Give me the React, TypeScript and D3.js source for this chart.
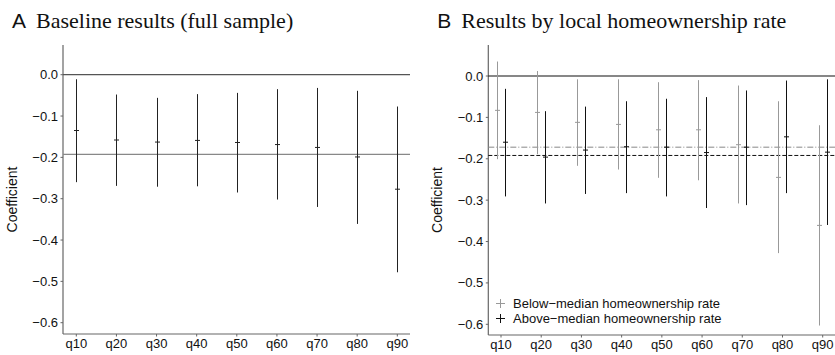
import * as d3 from 'd3';

const quantiles = ['q10', 'q20', 'q30', 'q40', 'q50', 'q60', 'q70', 'q80', 'q90'];
const yTicks = [0, -0.1, -0.2, -0.3, -0.4, -0.5, -0.6];

// Panel A: full sample
const fullCoef = [-0.135, -0.158, -0.163, -0.159, -0.164, -0.169, -0.176, -0.199, -0.277];
const fullLow = [-0.26, -0.269, -0.271, -0.27, -0.285, -0.302, -0.32, -0.361, -0.478];
const fullHigh = [-0.011, -0.048, -0.056, -0.047, -0.044, -0.035, -0.032, -0.039, -0.077];
const fullMean = -0.193;

// Panel B: by local homeownership rate
const belowCoef = [-0.083, -0.088, -0.112, -0.117, -0.13, -0.13, -0.166, -0.245, -0.361];
const belowLow = [-0.201, -0.189, -0.217, -0.226, -0.246, -0.252, -0.308, -0.428, -0.603];
const belowHigh = [0.035, 0.012, -0.008, -0.008, -0.015, -0.01, -0.023, -0.061, -0.119];
const aboveCoef = [-0.16, -0.196, -0.179, -0.171, -0.172, -0.185, -0.172, -0.147, -0.184];
const aboveLow = [-0.291, -0.308, -0.285, -0.283, -0.291, -0.319, -0.312, -0.283, -0.36];
const aboveHigh = [-0.031, -0.085, -0.074, -0.061, -0.055, -0.051, -0.035, -0.011, -0.008];
const belowMean = -0.172;
const aboveMean = -0.192;

const legendLabels = ['Below\u2212median homeownership rate', 'Above\u2212median homeownership rate'];

const sans = '"Liberation Sans", Arial, sans-serif';
const serif = '"Liberation Serif", "Times New Roman", serif';
const axisColor = '#666';
const belowColor = '#999';
const aboveColor = '#111';

interface PanelProps {
  letter: string;
  title: string;
  left: number;   // x of y axis
  right: number;  // right end of plot
  firstX: number; // q10 position
  lastX: number;  // q90 position
  zeroY: number;
  sixY: number;   // y of -0.6
  bottom: number;
  children: (x: d3.ScalePoint<string>, y: d3.ScaleLinear<number, number>) => React.ReactNode;
}

function Panel({ letter, title, left, right, firstX, lastX, zeroY, sixY, bottom, children }: PanelProps) {
  const x = d3.scalePoint<string>().domain(quantiles).range([firstX, lastX]);
  const y = d3.scaleLinear().domain([0, -0.6]).range([zeroY, sixY]);
  const top = 45;
  return (
    <g>
      <text x={left - 51} y={28} fontFamily={sans} fontSize={21} fill="#111">{letter}</text>
      <text x={left - 27} y={28} fontFamily={serif} fontSize={22} fill="#111">{title}</text>
      {/* y axis */}
      <line x1={left} x2={left} y1={top} y2={bottom} stroke={axisColor} strokeWidth={1.2} />
      {yTicks.map(t => (
        <g key={t}>
          <line x1={left - 2.5} x2={left} y1={y(t)} y2={y(t)} stroke={axisColor} />
          <text x={left - 5} y={y(t) + 4.5} textAnchor="end" fontFamily={sans} fontSize={13} fill="#111">
            {d3.format('.1f')(t).replace('-', '\u2212')}
          </text>
        </g>
      ))}
      <text
        transform={`translate(${left - 46},${(top + bottom) / 2 + 10}) rotate(-90)`}
        textAnchor="middle"
        fontFamily={sans}
        fontSize={14}
        fill="#111"
      >
        Coefficient
      </text>
      {/* x axis */}
      <line x1={left} x2={right} y1={bottom} y2={bottom} stroke={axisColor} strokeWidth={1.2} />
      {quantiles.map(q => (
        <g key={q}>
          <line x1={x(q)} x2={x(q)} y1={bottom} y2={bottom + 2.5} stroke={axisColor} />
          <text x={x(q)} y={bottom + 13.5} textAnchor="middle" fontFamily={sans} fontSize={13} fill="#111">{q}</text>
        </g>
      ))}
      {children(x, y)}
    </g>
  );
}

function ErrorBars({
  x, y, coef, low, high, offset, color,
}: {
  x: d3.ScalePoint<string>;
  y: d3.ScaleLinear<number, number>;
  coef: number[];
  low: number[];
  high: number[];
  offset: number;
  color: string;
}) {
  return (
    <g>
      {quantiles.map((q, i) => {
        const cx = Math.round((x(q) as number) + offset) + 0.5;
        return (
          <g key={q}>
            <line x1={cx} x2={cx} y1={y(high[i])} y2={y(low[i])} stroke={color} strokeWidth={1} />
            <line x1={cx - 2.5} x2={cx + 2.5} y1={y(coef[i])} y2={y(coef[i])} stroke={color} strokeWidth={1} />
          </g>
        );
      })}
    </g>
  );
}

export default function App() {
  return (
    <svg width={835} height={355} style={{ position: 'absolute', left: 0, top: 0, background: '#fff' }}>
      <Panel
        letter="A"
        title="Baseline results (full sample)"
        left={63}
        right={410}
        firstX={76.3}
        lastX={397.3}
        zeroY={74.7}
        sixY={322.7}
        bottom={334}
      >
        {(x, y) => (
          <g>
            <line x1={63} x2={410} y1={y(0)} y2={y(0)} stroke="#555" strokeWidth={1.2} />
            <line x1={63} x2={410} y1={y(fullMean)} y2={y(fullMean)} stroke="#888" strokeWidth={1.2} />
            <ErrorBars x={x} y={y} coef={fullCoef} low={fullLow} high={fullHigh} offset={0} color="#222" />
          </g>
        )}
      </Panel>
      <Panel
        letter="B"
        title="Results by local homeownership rate"
        left={488.3}
        right={835}
        firstX={501}
        lastX={822.7}
        zeroY={76}
        sixY={324.3}
        bottom={335}
      >
        {(x, y) => (
          <g>
            <line x1={488.3} x2={835} y1={y(0)} y2={y(0)} stroke="#111" strokeWidth={1.2} />
            <line x1={488.3} x2={835} y1={y(belowMean)} y2={y(belowMean)} stroke="#888" strokeWidth={1} strokeDasharray="6,2,1,2" />
            <line x1={488.3} x2={835} y1={y(aboveMean)} y2={y(aboveMean)} stroke="#111" strokeWidth={1} strokeDasharray="4,2" />
            <ErrorBars x={x} y={y} coef={belowCoef} low={belowLow} high={belowHigh} offset={-4} color={belowColor} />
            <ErrorBars x={x} y={y} coef={aboveCoef} low={aboveLow} high={aboveHigh} offset={4} color={aboveColor} />
            {/* legend */}
            {legendLabels.map((label, i) => {
              const ly = 303.5 + i * 15;
              const c = i === 0 ? belowColor : aboveColor;
              return (
                <g key={label}>
                  <line x1={496} x2={505} y1={ly} y2={ly} stroke={c} />
                  <line x1={500.5} x2={500.5} y1={ly - 4.5} y2={ly + 4.5} stroke={c} />
                  <text x={513} y={ly + 4.5} fontFamily={sans} fontSize={13} fill="#111">{label}</text>
                </g>
              );
            })}
          </g>
        )}
      </Panel>
    </svg>
  );
}
